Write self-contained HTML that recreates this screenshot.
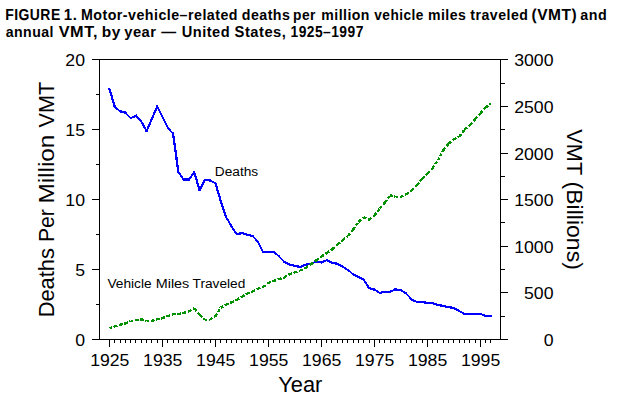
<!DOCTYPE html>
<html><head><meta charset="utf-8"><style>
html,body{margin:0;padding:0;background:#fff;width:624px;height:411px;overflow:hidden}
svg{position:absolute;left:0;top:0}
text{font-family:"Liberation Sans",sans-serif;fill:#000}
</style></head><body>
<svg width="624" height="411" viewBox="0 0 624 411">
<text text-rendering="geometricPrecision" transform="translate(5.17,19.90) scale(0.9304,1.06)" font-weight="bold" font-size="15" letter-spacing="0.5">FIGURE</text>
<text text-rendering="geometricPrecision" transform="translate(63.80,19.90) scale(1.0000,1.06)" font-weight="bold" font-size="15" letter-spacing="0.5">1</text>
<text transform="translate(72.64,19.90) scale(1.0000,1)" font-weight="bold" font-size="15" letter-spacing="0.5">.</text>
<text text-rendering="geometricPrecision" transform="translate(80.95,19.90) scale(0.9491,1.06)" font-weight="bold" font-size="15" letter-spacing="0.5">M</text>
<text transform="translate(93.29,19.90) scale(0.9491,1)" font-weight="bold" font-size="15" letter-spacing="0.5">otor-vehicle–related</text>
<text transform="translate(241.73,19.90) scale(0.9487,1)" font-weight="bold" font-size="15" letter-spacing="0.5">deaths</text>
<text transform="translate(293.08,19.90) scale(0.9217,1)" font-weight="bold" font-size="15" letter-spacing="0.5">per</text>
<text transform="translate(321.26,19.90) scale(0.9394,1)" font-weight="bold" font-size="15" letter-spacing="0.5">million</text>
<text transform="translate(374.27,19.90) scale(0.9113,1)" font-weight="bold" font-size="15" letter-spacing="0.5">vehicle</text>
<text transform="translate(427.96,19.90) scale(0.9394,1)" font-weight="bold" font-size="15" letter-spacing="0.5">miles</text>
<text transform="translate(470.36,19.90) scale(0.9423,1)" font-weight="bold" font-size="15" letter-spacing="0.5">traveled</text>
<text text-rendering="geometricPrecision" transform="translate(531.52,19.90) scale(1.0343,1.06)" font-weight="bold" font-size="15" letter-spacing="0.5">(VMT)</text>
<text transform="translate(580.32,19.90) scale(0.9524,1)" font-weight="bold" font-size="15" letter-spacing="0.5">and</text>
<text transform="translate(5.63,36.50) scale(0.9421,1)" font-weight="bold" font-size="15" letter-spacing="0.5">annual</text>
<text text-rendering="geometricPrecision" transform="translate(58.73,36.50) scale(1.0841,1.06)" font-weight="bold" font-size="15" letter-spacing="0.5">VMT</text>
<text transform="translate(92.88,36.50) scale(1.0841,1)" font-weight="bold" font-size="15" letter-spacing="0.5">,</text>
<text transform="translate(101.77,36.50) scale(1.0328,1)" font-weight="bold" font-size="15" letter-spacing="0.5">by</text>
<text transform="translate(124.25,36.50) scale(0.9827,1)" font-weight="bold" font-size="15" letter-spacing="0.5">year</text>
<text transform="translate(161.30,36.50) scale(0.9933,1)" font-weight="bold" font-size="15" letter-spacing="0.5">—</text>
<text text-rendering="geometricPrecision" transform="translate(181.73,36.50) scale(0.9735,1.06)" font-weight="bold" font-size="15" letter-spacing="0.5">U</text>
<text transform="translate(192.77,36.50) scale(0.9735,1)" font-weight="bold" font-size="15" letter-spacing="0.5">nited</text>
<text text-rendering="geometricPrecision" transform="translate(234.61,36.50) scale(0.9833,1.06)" font-weight="bold" font-size="15" letter-spacing="0.5">S</text>
<text transform="translate(244.95,36.50) scale(0.9833,1)" font-weight="bold" font-size="15" letter-spacing="0.5">tates,</text>
<text text-rendering="geometricPrecision" transform="translate(290.48,36.50) scale(0.9213,1.06)" font-weight="bold" font-size="15" letter-spacing="0.5">1925</text>
<text transform="translate(323.07,36.50) scale(0.9213,1)" font-weight="bold" font-size="15" letter-spacing="0.5">–</text>
<text text-rendering="geometricPrecision" transform="translate(331.22,36.50) scale(0.9213,1.06)" font-weight="bold" font-size="15" letter-spacing="0.5">1997</text>
<text transform="translate(53.80,317.28) rotate(-90) scale(1.0153,1)" font-size="21.5">Deaths</text>
<text transform="translate(53.80,242.02) rotate(-90) scale(0.9824,1)" font-size="21.5">Per</text>
<text transform="translate(53.80,203.58) rotate(-90) scale(1.1325,1)" font-size="21.5">Million</text>
<text transform="translate(53.80,127.55) rotate(-90) scale(1.0101,1)" font-size="21.5">VMT</text>
<text transform="translate(567.20,129.35) rotate(90) scale(1.0101,1)" font-size="21.5">VMT</text>
<text transform="translate(567.20,181.56) rotate(90) scale(1.0721,1)" font-size="21.5">(Billions)</text>
<text transform="translate(278.29,391.80) scale(1.0141,1)" font-weight="normal" font-size="21.5">Year</text>
<text transform="translate(214.78,176.00) scale(1.0158,1)" font-weight="normal" font-size="13.5">Deaths</text>
<text transform="translate(107.45,288.20) scale(1.0152,1)" font-weight="normal" font-size="13.5">Vehicle</text>
<text transform="translate(155.73,288.20) scale(1.0667,1)" font-weight="normal" font-size="13.5">Miles</text>
<text transform="translate(192.55,288.20) scale(1.0148,1)" font-weight="normal" font-size="13.5">Traveled</text>
<g stroke="#000" stroke-width="1" fill="none" shape-rendering="crispEdges">
<path d="M92,59.5H508M92,339.5H508M99.5,59.5V339.5M500.5,59.5V339.5"/>
<path d="M109.5,339.5V347.0 M114.5,339.5V343.0 M120.5,339.5V343.0 M125.5,339.5V343.0 M130.5,339.5V343.0 M135.5,339.5V343.0 M141.5,339.5V343.0 M146.5,339.5V343.0 M151.5,339.5V343.0 M157.5,339.5V343.0 M162.5,339.5V347.0 M167.5,339.5V343.0 M173.5,339.5V343.0 M178.5,339.5V343.0 M183.5,339.5V343.0 M188.5,339.5V343.0 M194.5,339.5V343.0 M199.5,339.5V343.0 M204.5,339.5V343.0 M210.5,339.5V343.0 M215.5,339.5V347.0 M220.5,339.5V343.0 M226.5,339.5V343.0 M231.5,339.5V343.0 M236.5,339.5V343.0 M241.5,339.5V343.0 M247.5,339.5V343.0 M252.5,339.5V343.0 M257.5,339.5V343.0 M263.5,339.5V343.0 M268.5,339.5V347.0 M273.5,339.5V343.0 M279.5,339.5V343.0 M284.5,339.5V343.0 M289.5,339.5V343.0 M294.5,339.5V343.0 M300.5,339.5V343.0 M305.5,339.5V343.0 M310.5,339.5V343.0 M316.5,339.5V343.0 M321.5,339.5V347.0 M326.5,339.5V343.0 M331.5,339.5V343.0 M337.5,339.5V343.0 M342.5,339.5V343.0 M347.5,339.5V343.0 M353.5,339.5V343.0 M358.5,339.5V343.0 M363.5,339.5V343.0 M369.5,339.5V343.0 M374.5,339.5V347.0 M379.5,339.5V343.0 M384.5,339.5V343.0 M390.5,339.5V343.0 M395.5,339.5V343.0 M400.5,339.5V343.0 M406.5,339.5V343.0 M411.5,339.5V343.0 M416.5,339.5V343.0 M422.5,339.5V343.0 M427.5,339.5V347.0 M432.5,339.5V343.0 M437.5,339.5V343.0 M443.5,339.5V343.0 M448.5,339.5V343.0 M453.5,339.5V343.0 M459.5,339.5V343.0 M464.5,339.5V343.0 M469.5,339.5V343.0 M475.5,339.5V343.0 M480.5,339.5V347.0 M485.5,339.5V343.0 M490.5,339.5V343.0 M99.5,339.5H92.0 M99.5,304.5H96.0 M99.5,269.5H92.0 M99.5,234.5H96.0 M99.5,199.5H92.0 M99.5,164.5H96.0 M99.5,129.5H92.0 M99.5,94.5H96.0 M99.5,59.5H92.0 M500.5,339.5H508.0 M500.5,316.5H505.0 M500.5,292.5H508.0 M500.5,269.5H505.0 M500.5,246.5H508.0 M500.5,222.5H505.0 M500.5,199.5H508.0 M500.5,176.5H505.0 M500.5,153.5H508.0 M500.5,129.5H505.0 M500.5,106.5H508.0 M500.5,83.5H505.0 M500.5,59.5H508.0"/>
</g>
<g font-size="17" text-anchor="end"><text transform="translate(85,345.80) scale(1.04,1)">0</text><text transform="translate(85,275.80) scale(1.04,1)">5</text><text transform="translate(85,205.80) scale(1.04,1)">10</text><text transform="translate(85,135.80) scale(1.04,1)">15</text><text transform="translate(85,65.80) scale(1.04,1)">20</text><text transform="translate(553.5,345.80) scale(1.04,1)">0</text><text transform="translate(553.5,298.80) scale(1.04,1)">500</text><text transform="translate(553.5,252.80) scale(1.04,1)">1000</text><text transform="translate(553.5,205.80) scale(1.04,1)">1500</text><text transform="translate(553.5,159.80) scale(1.04,1)">2000</text><text transform="translate(553.5,112.80) scale(1.04,1)">2500</text><text transform="translate(553.5,65.80) scale(1.04,1)">3000</text></g>
<g font-size="17" text-anchor="middle"><text transform="translate(109.80,366.30) scale(1.04,1)">1925</text><text transform="translate(162.77,366.30) scale(1.04,1)">1935</text><text transform="translate(215.74,366.30) scale(1.04,1)">1945</text><text transform="translate(268.72,366.30) scale(1.04,1)">1955</text><text transform="translate(321.69,366.30) scale(1.04,1)">1965</text><text transform="translate(374.66,366.30) scale(1.04,1)">1975</text><text transform="translate(427.63,366.30) scale(1.04,1)">1985</text><text transform="translate(480.60,366.30) scale(1.04,1)">1995</text></g>
<g fill="none" stroke="#0000ff" stroke-linecap="square" shape-rendering="crispEdges"><path d="M109.50,89.00L114.80,107.00" stroke-width="2.21"/><path d="M114.80,107.00L120.09,111.30" stroke-width="1.79"/><path d="M120.09,111.30L125.39,112.60" stroke-width="2.23"/><path d="M125.39,112.60L130.69,118.00" stroke-width="1.64"/><path d="M130.69,118.00L135.99,115.80" stroke-width="2.12"/><path d="M135.99,115.80L141.28,121.50" stroke-width="1.68"/><path d="M141.28,121.50L146.58,131.00" stroke-width="2.01"/><path d="M146.58,131.00L151.88,119.00" stroke-width="2.10"/><path d="M151.88,119.00L157.17,106.50" stroke-width="2.12"/><path d="M157.17,106.50L162.47,117.00" stroke-width="2.05"/><path d="M162.47,117.00L167.77,127.70" stroke-width="2.06"/><path d="M167.77,127.70L173.07,133.60" stroke-width="1.71"/><path d="M173.07,133.60L178.36,171.80" stroke-width="2.28"/><path d="M178.36,171.80L183.66,179.50" stroke-width="1.89"/><path d="M183.66,179.50L188.96,179.50" stroke-width="2.30"/><path d="M188.96,179.50L194.26,172.20" stroke-width="1.86"/><path d="M194.26,172.20L199.55,190.20" stroke-width="2.21"/><path d="M199.55,190.20L204.85,180.00" stroke-width="2.04"/><path d="M204.85,180.00L210.15,180.50" stroke-width="2.29"/><path d="M210.15,180.50L215.44,183.30" stroke-width="2.03"/><path d="M215.44,183.30L220.74,201.00" stroke-width="2.20"/><path d="M220.74,201.00L226.04,217.00" stroke-width="2.18"/><path d="M226.04,217.00L231.34,226.00" stroke-width="1.98"/><path d="M231.34,226.00L236.63,234.20" stroke-width="1.93"/><path d="M236.63,234.20L241.93,233.10" stroke-width="2.25"/><path d="M241.93,233.10L247.23,234.60" stroke-width="2.21"/><path d="M247.23,234.60L252.52,236.00" stroke-width="2.22"/><path d="M252.52,236.00L257.82,241.80" stroke-width="1.70"/><path d="M257.82,241.80L263.12,252.00" stroke-width="2.04"/><path d="M263.12,252.00L268.42,252.00" stroke-width="2.30"/><path d="M268.42,252.00L273.71,252.10" stroke-width="2.30"/><path d="M273.71,252.10L279.01,256.20" stroke-width="1.82"/><path d="M279.01,256.20L284.31,261.90" stroke-width="1.68"/><path d="M284.31,261.90L289.60,264.50" stroke-width="2.06"/><path d="M289.60,264.50L294.90,265.90" stroke-width="2.22"/><path d="M294.90,265.90L300.20,267.00" stroke-width="2.25"/><path d="M300.20,267.00L305.50,264.80" stroke-width="2.12"/><path d="M305.50,264.80L310.79,263.90" stroke-width="2.27"/><path d="M310.79,263.90L316.09,261.70" stroke-width="2.12"/><path d="M316.09,261.70L321.39,262.40" stroke-width="2.28"/><path d="M321.39,262.40L326.69,260.20" stroke-width="2.12"/><path d="M326.69,260.20L331.98,262.80" stroke-width="2.06"/><path d="M331.98,262.80L337.28,263.80" stroke-width="2.26"/><path d="M337.28,263.80L342.58,266.40" stroke-width="2.06"/><path d="M342.58,266.40L347.87,270.00" stroke-width="1.90"/><path d="M347.87,270.00L353.17,274.30" stroke-width="1.79"/><path d="M353.17,274.30L358.47,277.00" stroke-width="2.05"/><path d="M358.47,277.00L363.77,279.70" stroke-width="2.05"/><path d="M363.77,279.70L369.06,288.20" stroke-width="1.95"/><path d="M369.06,288.20L374.36,289.60" stroke-width="2.22"/><path d="M374.36,289.60L379.66,293.00" stroke-width="1.94"/><path d="M379.66,293.00L384.95,291.80" stroke-width="2.24"/><path d="M384.95,291.80L390.25,291.70" stroke-width="2.30"/><path d="M390.25,291.70L395.55,289.50" stroke-width="2.12"/><path d="M395.55,289.50L400.85,290.00" stroke-width="2.29"/><path d="M400.85,290.00L406.14,293.40" stroke-width="1.94"/><path d="M406.14,293.40L411.44,299.50" stroke-width="1.74"/><path d="M411.44,299.50L416.74,301.90" stroke-width="2.10"/><path d="M416.74,301.90L422.03,302.10" stroke-width="2.30"/><path d="M422.03,302.10L427.33,302.90" stroke-width="2.27"/><path d="M427.33,302.90L432.63,303.10" stroke-width="2.30"/><path d="M432.63,303.10L437.93,304.90" stroke-width="2.18"/><path d="M437.93,304.90L443.22,305.90" stroke-width="2.26"/><path d="M443.22,305.90L448.52,307.20" stroke-width="2.23"/><path d="M448.52,307.20L453.82,308.00" stroke-width="2.27"/><path d="M453.82,308.00L459.12,311.00" stroke-width="2.00"/><path d="M459.12,311.00L464.41,313.90" stroke-width="2.02"/><path d="M464.41,313.90L469.71,313.90" stroke-width="2.30"/><path d="M469.71,313.90L475.01,313.90" stroke-width="2.30"/><path d="M475.01,313.90L480.30,313.90" stroke-width="2.30"/><path d="M480.30,313.90L485.60,315.80" stroke-width="2.16"/><path d="M485.60,315.80L490.90,315.80" stroke-width="2.30"/></g>
<g fill="none" stroke="#009100" stroke-width="2.3" shape-rendering="crispEdges"><path d="M109.50,328.09L114.80,326.37" stroke-dasharray="2.73 1.47"/><path d="M114.80,326.37L120.09,324.71" stroke-dasharray="2.72 1.47"/><path d="M120.09,324.71L125.39,323.36" stroke-dasharray="2.68 1.44"/><path d="M125.39,323.36L130.69,321.05" stroke-dasharray="2.84 1.53"/><path d="M130.69,321.05L135.99,320.25" stroke-dasharray="2.63 1.42"/><path d="M135.99,320.25L141.28,319.32" stroke-dasharray="2.64 1.42"/><path d="M141.28,319.32L146.58,320.79" stroke-dasharray="2.70 1.45"/><path d="M146.58,320.79L151.88,320.78" stroke-dasharray="2.60 1.40"/><path d="M151.88,320.78L157.17,319.38" stroke-dasharray="2.69 1.45"/><path d="M157.17,319.38L162.47,318.16" stroke-dasharray="2.67 1.44"/><path d="M162.47,318.16L167.77,315.97" stroke-dasharray="2.81 1.52"/><path d="M167.77,315.97L173.07,314.29" stroke-dasharray="2.73 1.47"/><path d="M173.07,314.29L178.36,314.19" stroke-dasharray="2.60 1.40"/><path d="M178.36,314.19L183.66,312.86" stroke-dasharray="2.68 1.44"/><path d="M183.66,312.86L188.96,311.29" stroke-dasharray="2.71 1.46"/><path d="M188.96,311.29L194.26,308.36" stroke-dasharray="2.97 1.60"/><path d="M194.26,308.36L199.55,314.47" stroke-dasharray="3.44 1.85"/><path d="M199.55,314.47L204.85,320.07" stroke-dasharray="3.58 1.93"/><path d="M204.85,320.07L210.15,319.65" stroke-dasharray="2.61 1.40"/><path d="M210.15,319.65L215.44,316.15" stroke-dasharray="3.12 1.68"/><path d="M215.44,316.15L220.74,307.68" stroke-dasharray="3.07 1.65"/><path d="M220.74,307.68L226.04,304.88" stroke-dasharray="2.94 1.58"/><path d="M226.04,304.88L231.34,302.36" stroke-dasharray="2.88 1.55"/><path d="M231.34,302.36L236.63,299.89" stroke-dasharray="2.87 1.55"/><path d="M236.63,299.89L241.93,296.73" stroke-dasharray="3.03 1.63"/><path d="M241.93,296.73L247.23,293.66" stroke-dasharray="3.01 1.62"/><path d="M247.23,293.66L252.52,291.56" stroke-dasharray="2.80 1.51"/><path d="M252.52,291.56L257.82,288.69" stroke-dasharray="2.96 1.59"/><path d="M257.82,288.69L263.12,287.06" stroke-dasharray="2.72 1.47"/><path d="M263.12,287.06L268.42,282.98" stroke-dasharray="3.28 1.77"/><path d="M268.42,282.98L273.71,280.91" stroke-dasharray="2.79 1.50"/><path d="M273.71,280.91L279.01,279.11" stroke-dasharray="2.74 1.48"/><path d="M279.01,279.11L284.31,277.46" stroke-dasharray="2.72 1.47"/><path d="M284.31,277.46L289.60,274.12" stroke-dasharray="3.07 1.66"/><path d="M289.60,274.12L294.90,272.41" stroke-dasharray="2.73 1.47"/><path d="M294.90,272.41L300.20,270.68" stroke-dasharray="2.74 1.47"/><path d="M300.20,270.68L305.50,267.94" stroke-dasharray="2.93 1.58"/><path d="M305.50,267.94L310.79,264.35" stroke-dasharray="3.14 1.69"/><path d="M310.79,264.35L316.09,260.51" stroke-dasharray="3.21 1.73"/><path d="M316.09,260.51L321.39,256.64" stroke-dasharray="3.22 1.73"/><path d="M321.39,256.64L326.69,253.08" stroke-dasharray="3.13 1.69"/><path d="M326.69,253.08L331.98,249.53" stroke-dasharray="3.13 1.69"/><path d="M331.98,249.53L337.28,244.68" stroke-dasharray="3.52 1.90"/><path d="M337.28,244.68L342.58,240.40" stroke-dasharray="3.34 1.80"/><path d="M342.58,240.40L347.87,235.93" stroke-dasharray="3.40 1.83"/><path d="M347.87,235.93L353.17,229.48" stroke-dasharray="3.36 1.81"/><path d="M353.17,229.48L358.47,221.92" stroke-dasharray="3.17 1.71"/><path d="M358.47,221.92L363.77,216.94" stroke-dasharray="3.57 1.92"/><path d="M363.77,216.94L369.06,219.99" stroke-dasharray="3.00 1.61"/><path d="M369.06,219.99L374.36,215.58" stroke-dasharray="3.38 1.82"/><path d="M374.36,215.58L379.66,208.61" stroke-dasharray="3.27 1.76"/><path d="M379.66,208.61L384.95,202.58" stroke-dasharray="3.46 1.86"/><path d="M384.95,202.58L390.25,195.33" stroke-dasharray="3.22 1.73"/><path d="M390.25,195.33L395.55,196.78" stroke-dasharray="2.70 1.45"/><path d="M395.55,196.78L400.85,196.95" stroke-dasharray="2.60 1.40"/><path d="M400.85,196.95L406.14,194.34" stroke-dasharray="2.90 1.56"/><path d="M406.14,194.34L411.44,190.63" stroke-dasharray="3.17 1.71"/><path d="M411.44,190.63L416.74,185.24" stroke-dasharray="3.64 1.96"/><path d="M416.74,185.24L422.03,178.94" stroke-dasharray="3.40 1.83"/><path d="M422.03,178.94L427.33,173.85" stroke-dasharray="3.60 1.94"/><path d="M427.33,173.85L432.63,168.24" stroke-dasharray="3.58 1.93"/><path d="M432.63,168.24L437.93,160.19" stroke-dasharray="3.11 1.68"/><path d="M437.93,160.19L443.22,150.42" stroke-dasharray="2.96 1.59"/><path d="M443.22,150.42L448.52,143.83" stroke-dasharray="3.34 1.80"/><path d="M448.52,143.83L453.82,139.36" stroke-dasharray="3.40 1.83"/><path d="M453.82,139.36L459.12,136.77" stroke-dasharray="2.89 1.56"/><path d="M459.12,136.77L464.41,129.76" stroke-dasharray="3.26 1.75"/><path d="M464.41,129.76L469.71,125.17" stroke-dasharray="3.44 1.85"/><path d="M469.71,125.17L475.01,119.46" stroke-dasharray="3.55 1.91"/><path d="M475.01,119.46L480.30,113.38" stroke-dasharray="3.45 1.86"/><path d="M480.30,113.38L485.60,107.49" stroke-dasharray="3.50 1.88"/><path d="M485.60,107.49L490.90,103.83" stroke-dasharray="3.16 1.70"/></g>
</svg>
</body></html>
